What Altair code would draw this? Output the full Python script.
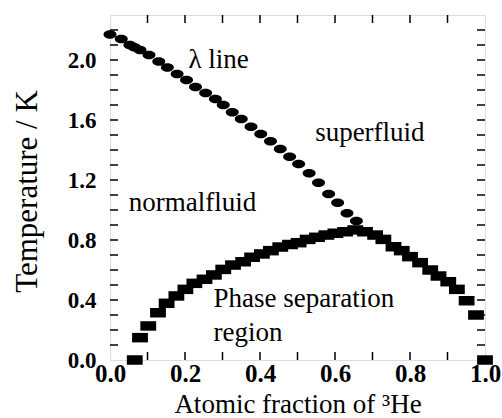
import altair as alt
import pandas as pd

# lambda line (ellipses)
lam_x = [0.0, 0.030, 0.053, 0.065, 0.080, 0.104, 0.130, 0.153, 0.179, 0.204,
         0.228, 0.255, 0.281, 0.302, 0.326, 0.350, 0.376, 0.402, 0.428, 0.454,
         0.479, 0.503, 0.531, 0.556, 0.583, 0.607, 0.632, 0.657]
lam_t = [2.17, 2.14, 2.10, 2.085, 2.067, 2.033, 1.99, 1.95, 1.907, 1.867,
         1.82, 1.78, 1.74, 1.70, 1.652, 1.606, 1.555, 1.506, 1.458, 1.406,
         1.355, 1.306, 1.245, 1.182, 1.106, 1.049, 0.978, 0.927]

# phase separation curve (squares)
ps_x = [0.066, 0.080, 0.102, 0.128, 0.151, 0.177, 0.201, 0.225, 0.252, 0.277,
        0.302, 0.328, 0.355, 0.379, 0.405, 0.429, 0.454, 0.480, 0.503, 0.527,
        0.552, 0.577, 0.601, 0.627, 0.654, 0.680, 0.707, 0.729, 0.756, 0.778,
        0.800, 0.827, 0.854, 0.876, 0.902, 0.925, 0.951, 0.976, 1.000]
ps_t = [0.0, 0.149, 0.227, 0.315, 0.378, 0.427, 0.471, 0.511, 0.538, 0.567,
        0.604, 0.633, 0.655, 0.685, 0.707, 0.729, 0.753, 0.770, 0.782, 0.804,
        0.818, 0.833, 0.845, 0.855, 0.867, 0.855, 0.833, 0.804, 0.755, 0.729,
        0.689, 0.649, 0.600, 0.560, 0.522, 0.471, 0.395, 0.300, 0.0]

# annotations
ann_text = ["λ line", "superfluid", "normalfluid", "Phase separation", "region"]
ann_x = [0.209, 0.547, 0.050, 0.276, 0.276]
ann_t = [1.947, 1.46, 0.993, 0.353, 0.127]

# axis labels and minor ticks
x_labels = [0.0, 0.2, 0.4, 0.6, 0.8, 1.0]
y_labels = [0.0, 0.4, 0.8, 1.2, 1.6, 2.0]
x_ticks = [0.1, 0.2, 0.3, 0.4, 0.5, 0.6, 0.7, 0.8, 0.9]
y_ticks = [0.1, 0.2, 0.3, 0.4, 0.5, 0.6, 0.7, 0.8, 0.9, 1.0, 1.1,
           1.2, 1.3, 1.4, 1.5, 1.6, 1.7, 1.8, 1.9, 2.0, 2.1, 2.2]

W, H = 375, 345
FONT = "Times New Roman"
TL = 8

lam_df = pd.DataFrame({"x": lam_x, "y": lam_t})
ps_df = pd.DataFrame({"x": ps_x, "y": ps_t})
ann_df = pd.DataFrame({"x": ann_x, "y": ann_t, "label": ann_text})
xt_df = pd.DataFrame({"x": x_ticks})
yt_df = pd.DataFrame({"y": y_ticks})

xscale = alt.Scale(domain=[0, 1], nice=False, zero=False)
yscale = alt.Scale(domain=[0, 2.3], nice=False, zero=False)

X = alt.X("x:Q", scale=xscale, axis=alt.Axis(
    values=x_labels, format=".1f", ticks=False, domain=False, grid=False,
    labelFont=FONT, labelFontWeight="bold", labelFontSize=25, labelColor="black",
    labelPadding=1, labelFlush=False, labelOverlap=False,
    title="Atomic fraction of ³He", titleFont=FONT, titleFontWeight="normal",
    titleFontSize=27, titleColor="black", titleBaseline="alphabetic", titleY=52))
Y = alt.Y("y:Q", scale=yscale, axis=alt.Axis(
    values=y_labels, format=".1f", ticks=False, domain=False, grid=False,
    labelFont=FONT, labelFontWeight="bold", labelFontSize=23, labelColor="black",
    labelPadding=14, labelFlush=False, labelOverlap=False,
    title="Temperature / K", titleFont=FONT, titleFontWeight="normal",
    titleFontSize=31, titleColor="black", titleAngle=-90, titleX=-83, titleY=176,
    titleAlign="center", titleBaseline="middle"))

ellipse = "M-1,0A1,0.65,0,1,1,1,0A1,0.65,0,1,1,-1,0Z"
rect = "M-1,-0.6H1V0.6H-1Z"

lam = alt.Chart(lam_df).mark_point(shape=ellipse, filled=True, size=170,
                                   color="black", opacity=1, strokeWidth=0).encode(x=X, y=Y)
ps = alt.Chart(ps_df).mark_point(shape=rect, filled=True, size=250,
                                 color="black", opacity=1, strokeWidth=0).encode(x=X, y=Y)
ann = alt.Chart(ann_df).mark_text(align="left", baseline="alphabetic", font=FONT,
                                  fontSize=27, color="black").encode(x=X, y=Y, text="label:N")

tick_style = dict(color="black", strokeWidth=1.5)
t_left = alt.Chart(yt_df).mark_rule(**tick_style).encode(y=Y, x=alt.value(0), x2=alt.value(TL))
t_right = alt.Chart(yt_df).mark_rule(**tick_style).encode(y=Y, x=alt.value(W - TL), x2=alt.value(W))
t_bot = alt.Chart(xt_df).mark_rule(**tick_style).encode(x=X, y=alt.value(H - TL), y2=alt.value(H))
t_top = alt.Chart(xt_df).mark_rule(**tick_style).encode(x=X, y=alt.value(0), y2=alt.value(TL))

chart = alt.layer(t_left, t_right, t_bot, t_top, lam, ps, ann).properties(
    width=W, height=H, autosize="none",
    padding={"left": 110, "top": 15, "right": 17, "bottom": 58},
    background="white",
).configure_view(stroke="black", strokeWidth=2).configure(font=FONT)

chart.save("out.html", embed_options={"renderer": "svg", "actions": False})
